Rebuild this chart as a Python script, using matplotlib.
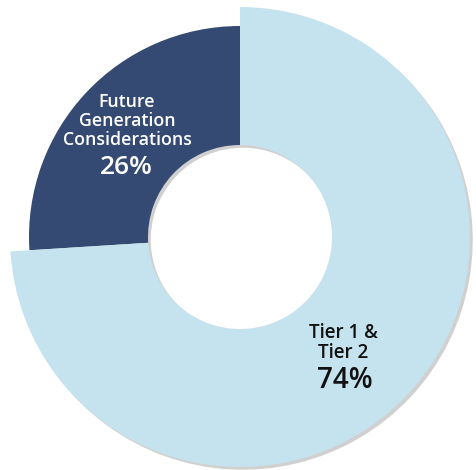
import matplotlib
matplotlib.use('Agg')
import matplotlib.pyplot as plt
import matplotlib.patheffects as pe

labels = ['Tier 1 &\nTier 2', 'Future\nGeneration\nConsiderations']
shares = [74, 26]
colors = ['#C5E3EE', '#344A72']
text_colors = ['#111111', '#FFFFFF']

W, H = 477, 470
fig = plt.figure(figsize=(W / 100, H / 100), dpi=100)
ax = fig.add_axes([0, 0, 1, 1])

cx, cy = 240, H - 237
hole = 92
wedges, _ = ax.pie(shares, colors=colors, startangle=90, counterclock=False,
                   center=(cx, cy), radius=230, frame=True,
                   wedgeprops=dict(width=230 - hole, linewidth=0))
# second slice sits a little smaller than the first
wedges[1].set_radius(211)
wedges[1].set_width(211 - hole)
wedges[1].set_zorder(1)
wedges[0].set_zorder(2)
shadow = [pe.SimplePatchShadow(offset=(2, -2), shadow_rgbFace='#666666', alpha=0.3), pe.Normal()]
for w in wedges:
    w.set_path_effects(shadow)
ax.set_xlim(0, W)
ax.set_ylim(0, H)
ax.set_aspect('equal')
ax.axis('off')

ax.text(127, H - 121, labels[1], ha='center', va='center', color=text_colors[1],
        fontsize=12.8, family='Open Sans', fontweight='semibold', linespacing=1.05, zorder=5)
ax.text(126, H - 167, f'{shares[1]}%', ha='center', va='center', color=text_colors[1],
        fontsize=19, family='Open Sans', fontweight='semibold', zorder=5)
ax.text(343, H - 343, labels[0], ha='center', va='center', color=text_colors[0],
        fontsize=13.5, family='Open Sans', fontweight='semibold', linespacing=1.05, zorder=5)
ax.text(345, H - 380, f'{shares[0]}%', ha='center', va='center', color=text_colors[0],
        fontsize=20, family='Open Sans', fontweight='semibold', zorder=5)

fig.savefig('out.png', dpi=100)
